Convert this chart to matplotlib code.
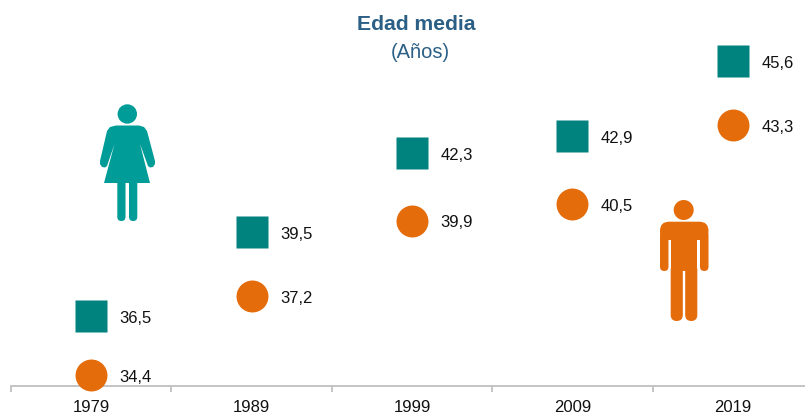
import numpy as np
import matplotlib
matplotlib.use("Agg")
import matplotlib.pyplot as plt
from matplotlib.patches import Circle, Polygon, FancyBboxPatch

years = ["1979", "1989", "1999", "2009", "2019"]
mujeres = [36.5, 39.5, 42.3, 42.9, 45.6]
hombres = [34.4, 37.2, 39.9, 40.5, 43.3]

TEAL = "#00837F"
TEAL_ICON = "#009C98"
ORANGE = "#E46C0A"
TITLE = "#2B5F85"

plt.rcParams["font.family"] = ["Liberation Sans", "DejaVu Sans"]

fig = plt.figure(figsize=(8.05, 4.14), dpi=100)
ax = fig.add_axes([11 / 805, 27 / 414, 802 / 805, 387 / 414])

x = np.arange(len(years))
ax.plot(x, mujeres, ls="none", marker="s", ms=23, mfc=TEAL, mec="none", clip_on=False, zorder=3)
ax.plot(x, hombres, ls="none", marker="o", ms=23, mfc=ORANGE, mec="none", clip_on=False, zorder=3)

for i in x:
    ax.annotate(f"{mujeres[i]:.1f}".replace(".", ","), (i, mujeres[i]), xytext=(20.5, -1),
                textcoords="offset points", va="center", ha="left", fontsize=12, color="#111111")
    ax.annotate(f"{hombres[i]:.1f}".replace(".", ","), (i, hombres[i]), xytext=(20.5, -1),
                textcoords="offset points", va="center", ha="left", fontsize=12, color="#111111")

ax.set_xlim(-0.5, 4.5)
ax.set_ylim(34, 47.8)
ax.patch.set_alpha(0)
for s in ["top", "left", "right"]:
    ax.spines[s].set_visible(False)
ax.spines["bottom"].set_color("#BFBFBF")
ax.spines["bottom"].set_linewidth(1.3)
ax.set_yticks([])
ax.set_xticks(x)
ax.set_xticklabels(years, fontsize=12, color="#111111")
ax.tick_params(axis="x", which="major", length=0, pad=9.5)
ax.set_xticks(np.arange(-0.5, 5, 1), minor=True)
ax.tick_params(axis="x", which="minor", length=4, width=1.3, color="#BFBFBF")

fig.text(416.5 / 805, 1 - 24 / 414, "Edad media", ha="center", va="center",
         fontsize=15.2, fontweight="bold", color=TITLE)
fig.text(420 / 805, 1 - 53 / 414, "(Años)", ha="center", va="center",
         fontsize=14.5, color=TITLE)

# iconos, en pixeles de la figura
icons = fig.add_axes([0, 0, 1, 1])
icons.set_xlim(0, 805)
icons.set_ylim(414, 0)
icons.axis("off")


def bar(ax_, x0, y0, x1, y1, color):
    r = min(x1 - x0, y1 - y0) / 2
    ax_.add_patch(FancyBboxPatch((x0 + r, y0 + r), x1 - x0 - 2 * r, y1 - y0 - 2 * r,
                                 boxstyle=f"round,pad={r}", fc=color, ec="none"))


# mujer
icons.add_patch(Circle((127.3, 115), 9.7, fc=TEAL_ICON, ec="none"))
icons.add_patch(Polygon([(116, 126.5), (139, 126.5), (144, 128), (147, 132), (155, 162), (155, 165),
                         (153, 168), (150, 168.5), (148, 167), (140, 145), (150, 184), (104, 184),
                         (114.5, 145), (107, 167), (105, 168.5), (102, 168), (100, 165), (100, 162),
                         (107, 132), (110, 128)],
                        closed=True, fc=TEAL_ICON, ec="none"))
bar(icons, 117.3, 178, 125.5, 222, TEAL_ICON)
bar(icons, 129, 178, 137.3, 222, TEAL_ICON)

# hombre
icons.add_patch(Circle((683.7, 211), 10, fc=ORANGE, ec="none"))
bar(icons, 660, 232, 668.5, 272, ORANGE)
bar(icons, 700, 232, 708.5, 272, ORANGE)
bar(icons, 660, 222.7, 708.5, 241, ORANGE)
icons.add_patch(Polygon([(670.7, 230), (697.3, 230), (697.3, 272), (670.7, 272)], closed=True,
                        fc=ORANGE, ec="none"))
bar(icons, 670.7, 265, 682.8, 322, ORANGE)
bar(icons, 685.2, 265, 697.3, 322, ORANGE)

fig.savefig("out.png", dpi=100)
